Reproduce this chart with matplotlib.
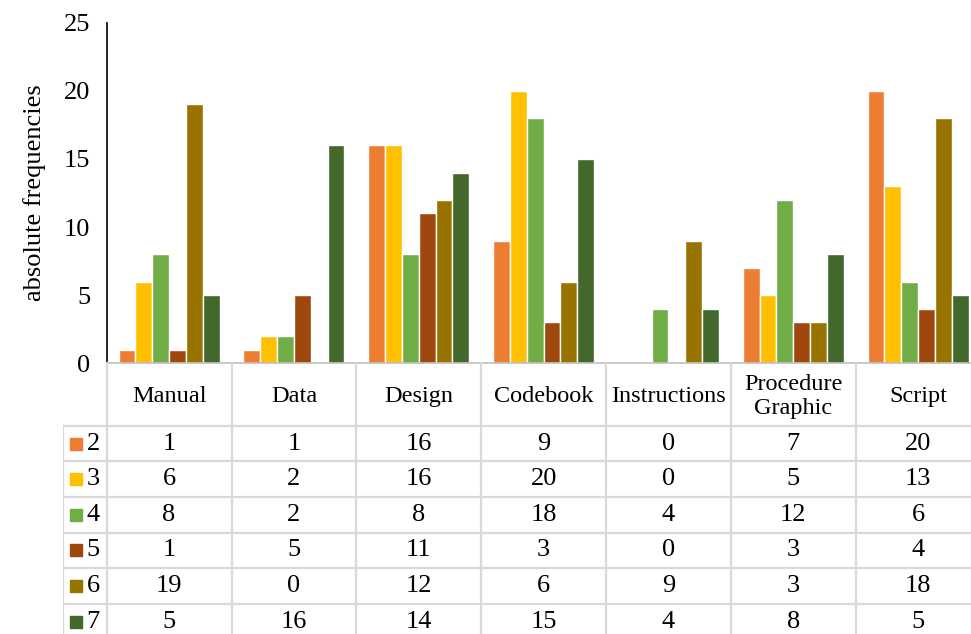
import matplotlib.pyplot as plt

plt.rcParams['font.family'] = ['Liberation Serif', 'DejaVu Serif']

categories = ['Manual', 'Data', 'Design', 'Codebook', 'Instructions', 'Procedure\nGraphic', 'Script']
series_names = ['2', '3', '4', '5', '6', '7']
s2 = [1, 1, 16, 9, 0, 7, 20]
s3 = [6, 2, 16, 20, 0, 5, 13]
s4 = [8, 2, 8, 18, 4, 12, 6]
s5 = [1, 5, 11, 3, 0, 3, 4]
s6 = [19, 0, 12, 6, 9, 3, 18]
s7 = [5, 16, 14, 15, 4, 8, 5]
series = [s2, s3, s4, s5, s6, s7]
colors = ['#ED7D31', '#FFC000', '#70AD47', '#9E480E', '#997300', '#43682B']

W, H = 971, 634
fig = plt.figure(figsize=(W / 100, H / 100), dpi=100)

# plot area in pixels (runs a bit past the right edge, like the source)
x0, x1 = 106.7, 980.5
y_zero, y_top = 363.3, 22.7
colw = (x1 - x0) / 7

ax = fig.add_axes([x0 / W, 1 - y_zero / H, (x1 - x0) / W, (y_zero - y_top) / H])
pitch = 0.135
for i, (vals, c) in enumerate(zip(series, colors)):
    xs = [k + (i - 2.5) * pitch for k in range(len(categories))]
    ax.bar(xs, vals, width=pitch, color=c, edgecolor='white', linewidth=1.0)

ax.set_xlim(-0.5, 6.5)
ax.set_ylim(0, 25)
ax.set_yticks([0, 5, 10, 15, 20, 25])
ax.set_xticks([])
ax.tick_params(axis='y', length=0, labelsize=19, pad=12)
for s in ['top', 'right']:
    ax.spines[s].set_visible(False)
ax.spines['left'].set_color('black')
ax.spines['left'].set_linewidth(1.2)
ax.spines['bottom'].set_color('#bfbfbf')
ax.spines['bottom'].set_linewidth(1.2)
ax.set_ylabel('absolute frequencies', fontsize=19, labelpad=13)

# data table below the plot
leg_left = 62.7
tax = fig.add_axes([leg_left / W, 0, (x1 - leg_left) / W, (H - y_zero) / H])
tax.set_xlim(-0.5 - (x0 - leg_left) / colw, 6.5)
tax.set_ylim(H, y_zero)
tax.axis('off')

grid = '#d9d9d9'
lw = 1.6
head_bottom = 425.7
rowh = 35.6
lx = -0.5 - (x0 - leg_left) / colw

for k in range(8):
    tax.plot([k - 0.5, k - 0.5], [y_zero, H], color=grid, lw=lw, clip_on=False)
tax.plot([lx, lx], [head_bottom, H], color=grid, lw=lw)
for r in range(6):
    y = head_bottom + r * rowh
    tax.plot([lx, 6.5], [y, y], color=grid, lw=lw)

for k, cat in enumerate(categories):
    tax.text(k, (y_zero + head_bottom) / 2 + 2, cat, ha='center', va='center',
             fontsize=17.5, linespacing=1.2)

for r, (name, vals, c) in enumerate(zip(series_names, series, colors)):
    yc = head_bottom + (r + 0.5) * rowh
    tax.plot(lx + 13 / colw, yc, marker='s', markersize=8.5, color=c, linestyle='none')
    tax.text(lx + 24 / colw, yc, name, ha='left', va='center', fontsize=19)
    for k, v in enumerate(vals):
        tax.text(k, yc, str(v), ha='center', va='center', fontsize=19)

fig.savefig('out.png', dpi=100)
